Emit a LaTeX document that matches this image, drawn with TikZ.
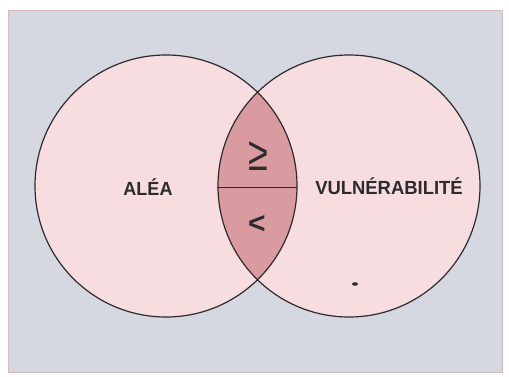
\documentclass[tikz,border=0pt]{standalone}
\usepackage{fontspec}
\setmainfont{Liberation Sans}
\definecolor{panel}{HTML}{D5D8E1}
\definecolor{pale}{HTML}{F7DDE0}
\definecolor{lens}{HTML}{D99BA0}
\definecolor{edge}{HTML}{2E2A2E}
\definecolor{frame}{HTML}{D8B9BE}
\tikzset{
  circ/.style={draw=edge, line width=1.2pt},
  lbl/.style={font=\bfseries\fontsize{19}{19}\selectfont, text=edge, inner sep=0pt},
  sym/.style={inner sep=0pt, text=edge},
}
\begin{document}
\begin{tikzpicture}[x=1pt,y=1pt]
\useasboundingbox (0,0) rectangle (509,376);
\fill[white] (0,0) rectangle (509,376);
\draw[frame, fill=panel, line width=0.8pt] (8,4) rectangle (502,366);
% circles fill
\fill[pale] (166,190) circle (131);
\fill[pale] (349,190) circle (131);
\begin{scope}
  \clip (166,190) circle (131);
  \fill[lens] (349,190) circle (131);
\end{scope}
\draw[circ] (166,190) circle (131);
\draw[circ] (349,190) circle (131);
\coordinate (lensL) at (217,189);
\coordinate (lensR) at (297,189);
\draw[edge, line width=0.8pt] (lensL) -- (lensR);
\node[lbl] (alea) at (148,189) {\scalebox{0.95}[1]{ALÉA}};
\node[lbl] (vuln) at (389,190) {\scalebox{0.97}[1]{VULNÉRABILITÉ}};
\node[sym] (geq) at (258,220) {\scalebox{0.9}[1.2]{\fontsize{40}{40}\selectfont ≥}};
\node[sym] (lt) at (257,152) {\bfseries\fontsize{30}{30}\selectfont <};
\fill[edge] (355,92) ellipse (3 and 1.8);
\end{tikzpicture}
\end{document}
